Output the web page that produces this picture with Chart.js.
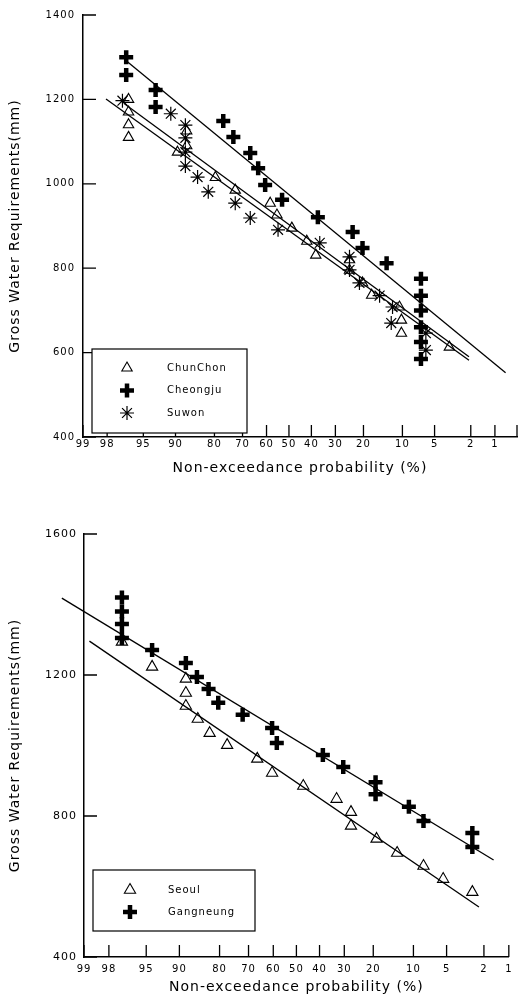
<!DOCTYPE html>
<html><head><meta charset="utf-8">
<script src="https://cdn.jsdelivr.net/npm/chart.js@4/dist/chart.umd.min.js"></script>
<style>
html,body{margin:0;padding:0;background:#fff;}
canvas{display:block;}
#b1{position:absolute;left:0;top:0;width:518px;height:490px;}
#b2{position:absolute;left:0;top:490px;width:518px;height:504px;}
</style></head><body>
<div id="b1"><canvas id="c1" width="518" height="490"></canvas></div>
<div id="b2"><canvas id="c2" width="518" height="504"></canvas></div>
<script>
// ---------- data (probability in %, value in mm) ----------
const probTicks1 = [99,98,95,90,80,70,60,50,40,30,20,10,5,2,1,0.5];
const probLabels1 = ['99','98','95','90','80','70','60','50','40','30','20','10','5','2','1',''];
const probTicks2 = [99,98,95,90,80,70,60,50,40,30,20,10,5,2,1];
const probLabels2 = ['99','98','95','90','80','70','60','50','40','30','20','10','5','2','1'];
const yTicks1 = [400,600,800,1000,1200,1400];
const yTicks2 = [400,800,1200,1600];

const chunchonP = [96.5,96.5,96.5,96.5,89.6,87.6,87.6,79.7,72.8,58.4,55.4,48.7,42.0,38.1,24.7,24.7,20.3,17.5,10.6,10.2,10.2,3.5];
const chunchonV = [1200,1170,1140,1110,1075,1125,1090,1015,985,954,926,895,864,831,820,795,765,736,708,677,646,613];
const cheongjuP = [96.7,96.7,93.4,93.4,77.1,73.5,66.9,63.6,60.6,53.1,37.2,23.6,20.3,13.5,6.8,6.8,6.8,6.8,6.8,6.8];
const cheongjuV = [1300,1258,1222,1182,1149,1111,1073,1037,997,962,921,886,848,812,775,735,700,660,625,585];
const suwonP = [97.0,90.9,87.9,87.9,87.9,87.9,84.9,81.9,72.8,66.9,54.9,36.4,24.7,24.7,21.3,15.3,12.1,12.4,6.1,6.1];
const suwonV = [1197,1166,1139,1109,1075,1042,1016,981,954,919,891,860,827,796,765,735,708,670,646,606];

const cheongjuFitP = [96.6,0.72];  const cheongjuFitV = [1289,552];
const chunchonFitP = [96.9,2.1];   const chunchonFitV = [1191,590];
const suwonFitP = [98.06,2.1];     const suwonFitV = [1201,582];

const gangneungP = [97.2,97.2,97.2,97.2,94.3,88.7,86.2,83.2,80.4,72.2,60.5,58.5,38.6,30.4,19.3,19.3,10.9,8.2,2.7,2.7];
const gangneungV = [1420,1380,1345,1305,1271,1234,1194,1160,1121,1087,1050,1007,973,939,896,862,826,786,752,712];
const seoulP = [97.2,94.3,88.7,88.7,88.7,86.0,82.9,77.6,66.6,60.5,47.0,33.0,27.5,27.5,19.0,13.5,8.2,5.4,2.7];
const seoulV = [1294,1223,1189,1149,1112,1075,1035,1001,962,922,885,848,811,772,735,695,658,621,584];

const gangneungFitP = [99.49,1.54]; const gangneungFitV = [1418,675];
const seoulFitP = [98.83,2.28];     const seoulFitV = [1296,542];

// ---------- normal probability scale helper ----------
function invNorm(p){
  const a=[-3.969683028665376e+01,2.209460984245205e+02,-2.759285104469687e+02,1.383577518672690e+02,-3.066479806614716e+01,2.506628277459239e+00];
  const b=[-5.447609879822406e+01,1.615858368580409e+02,-1.556989798598866e+02,6.680131188771972e+01,-1.328068155288572e+01];
  const c=[-7.784894002430293e-03,-3.223964580411365e-01,-2.400758277161838e+00,-2.549732539343734e+00,4.374664141464968e+00,2.938163982698783e+00];
  const d=[7.784695709041462e-03,3.224671290700398e-01,2.445134137142996e+00,3.754408661907416e+00];
  const pl=0.02425, ph=1-pl; let q,r;
  if(p<pl){q=Math.sqrt(-2*Math.log(p));return (((((c[0]*q+c[1])*q+c[2])*q+c[3])*q+c[4])*q+c[5])/((((d[0]*q+d[1])*q+d[2])*q+d[3])*q+1);}
  if(p>ph){q=Math.sqrt(-2*Math.log(1-p));return -(((((c[0]*q+c[1])*q+c[2])*q+c[3])*q+c[4])*q+c[5])/((((d[0]*q+d[1])*q+d[2])*q+d[3])*q+1);}
  q=p-0.5;r=q*q;return (((((a[0]*r+a[1])*r+a[2])*r+a[3])*r+a[4])*r+a[5])*q/(((((b[0]*r+b[1])*r+b[2])*r+b[3])*r+b[4])*r+1);
}
const zOf = p => invNorm(1 - p/100);
const pts = (P, V) => P.map((p, i) => ({x: zOf(p), y: V[i]}));

const FONT = 'DejaVu Sans';

// ---------- styles ----------
const triStyle = {pointStyle:'triangle', pointRadius:6, pointBorderWidth:1.1, pointBorderColor:'#000', pointBackgroundColor:'rgba(0,0,0,0)', showLine:false};
const crossStyle = {pointStyle:'cross', pointRadius:7, pointBorderWidth:4.5, pointBorderColor:'#000', pointBackgroundColor:'#000', showLine:false};
const starStyle = {pointStyle:'star', pointRadius:7, pointBorderWidth:1.2, pointBorderColor:'#000', pointBackgroundColor:'#000', showLine:false};
const fitStyle = {showLine:true, pointRadius:0, borderColor:'#000', borderWidth:1.3, fill:false, clip:false};

// ---------- plugins ----------
const spacing = {id:'spacing', beforeDraw(chart){ chart.ctx.letterSpacing = '1px'; }};
const inwardTicks = {
  id:'inwardTicks',
  afterDraw(chart, args, o){
    const {ctx, chartArea:ca} = chart; const xs = chart.scales.x, ys = chart.scales.y;
    ctx.save(); ctx.strokeStyle='#000'; ctx.lineWidth=1.3; ctx.beginPath();
    xs.ticks.forEach(t => { const px = xs.getPixelForValue(t.value); ctx.moveTo(px, ca.bottom); ctx.lineTo(px, ca.bottom - o.xLen); });
    ys.ticks.forEach(t => { const py = ys.getPixelForValue(t.value); ctx.moveTo(ca.left, py); ctx.lineTo(ca.left + o.yLen, py); });
    ctx.stroke(); ctx.restore();
  }
};
const boxLegend = {
  id:'boxLegend',
  afterDraw(chart, args, o){
    const ctx = chart.ctx; ctx.save();
    ctx.fillStyle='#fff'; ctx.fillRect(o.left, o.top, o.right-o.left, o.bottom-o.top);
    ctx.strokeStyle='#000'; ctx.lineWidth=1.2; ctx.strokeRect(o.left, o.top, o.right-o.left, o.bottom-o.top);
    const items = chart.data.datasets.filter(d => d.inLegend);
    items.forEach((d, i) => {
      const y = o.firstY + i*o.gap;
      ctx.strokeStyle = d.pointBorderColor; ctx.fillStyle = d.pointBackgroundColor; ctx.lineWidth = d.pointBorderWidth;
      Chart.helpers.drawPoint(ctx, {pointStyle:d.pointStyle, radius:d.pointRadius, rotation:0, borderWidth:d.pointBorderWidth}, o.markerX, y);
      ctx.fillStyle='#000'; ctx.font = o.fontSize + 'px "' + FONT + '"'; ctx.textAlign='left'; ctx.textBaseline='middle';
      ctx.fillText(d.label, o.textX, y);
    });
    ctx.restore();
  }
};

function makeChart(id, cfg){
  return new Chart(document.getElementById(id), {
    type:'scatter',
    data:{datasets:cfg.datasets},
    options:{
      responsive:false, animation:false, events:[],
      layout:{padding:{top:cfg.padTop, left:0, right:0, bottom:0}, autoPadding:false},
      plugins:{legend:{display:false}, tooltip:{enabled:false},
        inwardTicks:{xLen:12, yLen:13}, boxLegend:cfg.legend},
      scales:{
        x:{type:'linear', position:'bottom', min:zOf(99), max:cfg.xMax,
           grid:{display:false, drawTicks:false}, border:{display:true, color:'#000', width:1.5},
           afterBuildTicks(s){ s.ticks = cfg.probTicks.map(p => ({value:zOf(p)})); },
           afterFit(s){ s.height = cfg.xH; },
           ticks:{autoSkip:false, maxRotation:0, color:'#000', padding:cfg.xPad, font:{family:FONT, size:10},
                  callback:(v, i) => cfg.probLabels[i]},
           title:{display:true, text:'Non-exceedance probability (%)', color:'#000',
                  font:{family:FONT, size:14, lineHeight:1}, padding:{top:0, bottom:cfg.xTitlePad}}},
        y:{type:'linear', position:'left', min:cfg.yTicks[0], max:cfg.yTicks[cfg.yTicks.length-1],
           grid:{display:false, drawTicks:false}, border:{display:true, color:'#000', width:1.5},
           afterBuildTicks(s){ s.ticks = cfg.yTicks.map(v => ({value:v})); },
           afterFit(s){ s.width = cfg.yW; },
           ticks:{color:'#000', padding:cfg.yPad, font:{family:FONT, size:cfg.ySize},
                  callback:(v) => String(v)},
           title:{display:true, text:'Gross Water Requirements(mm)', color:'#000',
                  font:{family:FONT, size:14, lineHeight:1}, padding:{top:8, bottom:0}}}
      }
    },
    plugins:[spacing, inwardTicks, boxLegend]
  });
}

makeChart('c1', {
  padTop:15, xH:53, yW:83, xMax:zOf(0.5), xPad:1, xTitlePad:15, yPad:8, ySize:10,
  probTicks:probTicks1, probLabels:probLabels1, yTicks:yTicks1,
  legend:{left:92, top:349, right:247, bottom:433, markerX:127, textX:167, firstY:368, gap:22.5, fontSize:10},
  datasets:[
    Object.assign({label:'ChunChon', inLegend:true, data:pts(chunchonP, chunchonV)}, triStyle),
    Object.assign({label:'Cheongju', inLegend:true, data:pts(cheongjuP, cheongjuV)}, crossStyle),
    Object.assign({label:'Suwon', inLegend:true, data:pts(suwonP, suwonV)}, starStyle),
    Object.assign({label:'ChunChon fit', data:pts(chunchonFitP, chunchonFitV)}, fitStyle),
    Object.assign({label:'Cheongju fit', data:pts(cheongjuFitP, cheongjuFitV)}, fitStyle),
    Object.assign({label:'Suwon fit', data:pts(suwonFitP, suwonFitV)}, fitStyle)
  ]
});

makeChart('c2', {
  padTop:44, xH:37, yW:84, xMax:zOf(1), xPad:6, xTitlePad:0, yPad:7, ySize:11,
  probTicks:probTicks2, probLabels:probLabels2, yTicks:yTicks2,
  legend:{left:93, top:380, right:255, bottom:441, markerX:130, textX:168, firstY:400, gap:22, fontSize:10},
  datasets:[
    Object.assign({label:'Seoul', inLegend:true, data:pts(seoulP, seoulV)}, triStyle, {pointRadius:6.5}),
    Object.assign({label:'Gangneung', inLegend:true, data:pts(gangneungP, gangneungV)}, crossStyle),
    Object.assign({label:'Seoul fit', data:pts(seoulFitP, seoulFitV)}, fitStyle),
    Object.assign({label:'Gangneung fit', data:pts(gangneungFitP, gangneungFitV)}, fitStyle)
  ]
});
</script>
</body></html>
